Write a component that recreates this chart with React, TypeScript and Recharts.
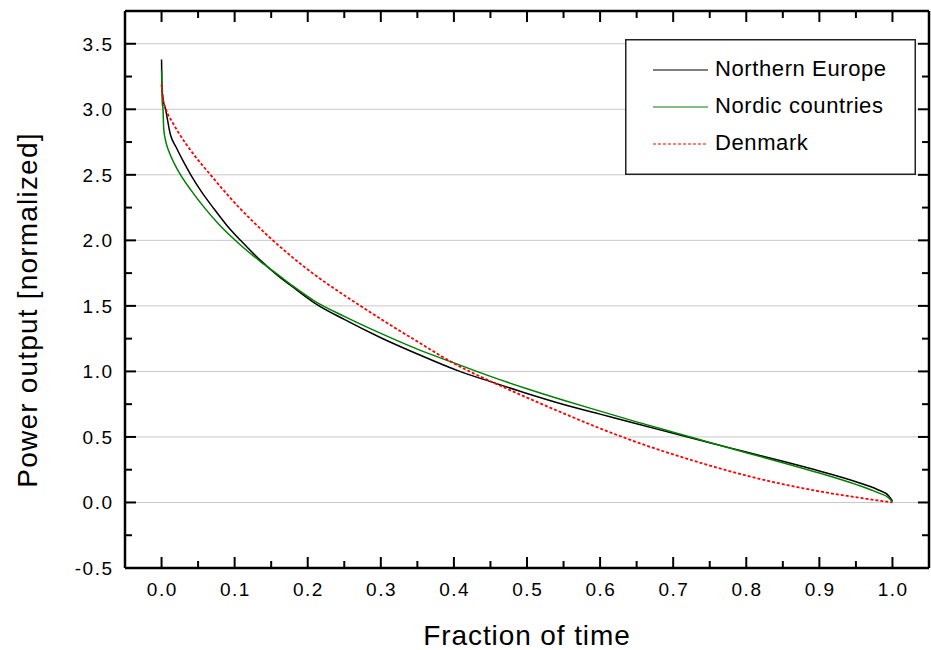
import React from 'react';
import { LineChart, Line, XAxis, YAxis, CartesianGrid, Legend } from 'recharts';

// Northern Europe (black)
const NE_TIME = [0, 0.0005, 0.002, 0.0055, 0.012, 0.02, 0.03, 0.04, 0.055, 0.072, 0.09, 0.108, 0.135, 0.16, 0.18, 0.21, 0.25, 0.3, 0.35, 0.408, 0.45, 0.5, 0.55, 0.6, 0.65, 0.7, 0.75, 0.8, 0.85, 0.9, 0.95, 0.98, 0.995, 1.0];
const NE_POWER = [3.38, 3.18, 3.08, 3.0, 2.81, 2.71, 2.6, 2.5, 2.368, 2.239, 2.11, 2.0, 1.849, 1.727, 1.642, 1.52, 1.397, 1.257, 1.133, 1.0, 0.922, 0.832, 0.748, 0.674, 0.6, 0.528, 0.456, 0.385, 0.314, 0.24, 0.158, 0.097, 0.05, 0.012];

// Nordic countries (green)
const NC_TIME = [0, 0.001, 0.002, 0.003, 0.006, 0.01, 0.018, 0.026, 0.04, 0.06, 0.078, 0.096, 0.115, 0.135, 0.16, 0.18, 0.21, 0.25, 0.3, 0.35, 0.4, 0.45, 0.5, 0.55, 0.6, 0.65, 0.7, 0.75, 0.8, 0.85, 0.9, 0.95, 0.98, 0.995, 1.0];
const NC_POWER = [3.3, 3.05, 3.0, 2.85, 2.75, 2.68, 2.58, 2.5, 2.385, 2.24, 2.125, 2.025, 1.93, 1.84, 1.735, 1.65, 1.535, 1.42, 1.29, 1.17, 1.065, 0.962, 0.868, 0.78, 0.697, 0.615, 0.536, 0.458, 0.38, 0.303, 0.225, 0.138, 0.075, 0.035, 0.003];

// Denmark (red, dashed)
const DK_TIME = [0, 0.002, 0.006, 0.015, 0.023, 0.045, 0.067, 0.085, 0.103, 0.125, 0.148, 0.175, 0.2, 0.235, 0.271, 0.3, 0.35, 0.405, 0.45, 0.5, 0.55, 0.6, 0.653, 0.7, 0.75, 0.8, 0.85, 0.9, 0.95, 1.0];
const DK_POWER = [3.19, 3.08, 3.0, 2.9, 2.824, 2.648, 2.5, 2.381, 2.269, 2.144, 2.022, 1.89, 1.777, 1.637, 1.504, 1.4, 1.228, 1.046, 0.925, 0.8, 0.68, 0.565, 0.454, 0.367, 0.282, 0.205, 0.14, 0.085, 0.04, 0.0];

const X_MAJOR = [0.0, 0.1, 0.2, 0.3, 0.4, 0.5, 0.6, 0.7, 0.8, 0.9, 1.0];
const X_MINOR = [0.05, 0.15, 0.25, 0.35, 0.45, 0.55, 0.65, 0.75, 0.85, 0.95];
const Y_MAJOR = [-0.5, 0.0, 0.5, 1.0, 1.5, 2.0, 2.5, 3.0, 3.5];
const Y_MINOR = [-0.25, 0.25, 0.75, 1.25, 1.75, 2.25, 2.75, 3.25];
const Y_GRID = [0.0, 0.5, 1.0, 1.5, 2.0, 2.5, 3.0, 3.5];

const X_TICKS = [...X_MAJOR, ...X_MINOR].sort((a, b) => a - b);
const Y_TICKS = [...Y_MAJOR, ...Y_MINOR].sort((a, b) => a - b);

const toPoints = (xs: number[], ys: number[]) => xs.map((x, i) => ({ x, y: ys[i] }));

const SERIES = [
  { name: 'Northern Europe', color: '#000000', dash: undefined, width: 1.5, data: toPoints(NE_TIME, NE_POWER) },
  { name: 'Nordic countries', color: '#008000', dash: undefined, width: 1.5, data: toPoints(NC_TIME, NC_POWER) },
  { name: 'Denmark', color: '#ff0000', dash: '3 2', width: 1.8, data: toPoints(DK_TIME, DK_POWER) },
];

const FONT = "'Liberation Sans', Arial, Helvetica, sans-serif";
const MAJOR_LEN = 11;
const MINOR_LEN = 7;

const isMajor = (list: number[], v: number) => list.some((m) => Math.abs(m - v) < 1e-9);

const BottomTick = (props: any) => {
  const { x, y, payload } = props;
  const major = isMajor(X_MAJOR, payload.value);
  return (
    <g>
      <line x1={x} y1={y} x2={x} y2={y - (major ? MAJOR_LEN : MINOR_LEN)} stroke="#000" strokeWidth={2} />
      {major && (
        <text x={x + 0.75} y={y + 28} textAnchor="middle" fontSize={19} letterSpacing={1.5} fontFamily={FONT} fill="#000">
          {payload.value.toFixed(1)}
        </text>
      )}
    </g>
  );
};

const TopTick = (props: any) => {
  const { x, y, payload } = props;
  const major = isMajor(X_MAJOR, payload.value);
  return <line x1={x} y1={y} x2={x} y2={y + (major ? MAJOR_LEN : MINOR_LEN)} stroke="#000" strokeWidth={2} />;
};

const LeftTick = (props: any) => {
  const { x, y, payload } = props;
  const major = isMajor(Y_MAJOR, payload.value);
  return (
    <g>
      <line x1={x} y1={y} x2={x + (major ? MAJOR_LEN : MINOR_LEN)} y2={y} stroke="#000" strokeWidth={2} />
      {major && (
        <text x={x - 11.5} y={y + 7} textAnchor="end" fontSize={19} letterSpacing={1.5} fontFamily={FONT} fill="#000">
          {payload.value.toFixed(1)}
        </text>
      )}
    </g>
  );
};

const RightTick = (props: any) => {
  const { x, y, payload } = props;
  const major = isMajor(Y_MAJOR, payload.value);
  return <line x1={x} y1={y} x2={x - (major ? MAJOR_LEN : MINOR_LEN)} y2={y} stroke="#000" strokeWidth={2} />;
};

const LegendBox = () => (
  <svg width={291} height={136} style={{ display: 'block' }}>
    <rect x={0.75} y={0.75} width={289.5} height={134.5} fill="#fff" stroke="#222" strokeWidth={1.5} />
    {SERIES.map((s, i) => {
      const cy = 31 + i * 37;
      return (
        <g key={s.name}>
          <line x1={28} y1={cy} x2={83} y2={cy} stroke={s.color} strokeWidth={1.2} strokeDasharray={s.dash} />
          <text x={90} y={cy + 6} fontSize={22} letterSpacing={0.6} fontFamily={FONT} fill="#000">
            {s.name}
          </text>
        </g>
      );
    })}
  </svg>
);

const XTitle = (props: any) => {
  const vb = props.viewBox;
  return (
    <text x={vb.x + vb.width / 2} y={vb.y + 77} textAnchor="middle" fontSize={28} letterSpacing={0.9} fontFamily={FONT} fill="#000">
      Fraction of time
    </text>
  );
};

const YTitle = () => (
  <text x={37} y={310} transform="rotate(-90, 37, 310)" textAnchor="middle" fontSize={28} letterSpacing={1.2} fontFamily={FONT} fill="#000">
    Power output [normalized]
  </text>
);

const axisLine = { stroke: '#000', strokeWidth: 2.5 };

export default function App() {
  return (
    <div style={{ position: 'absolute', left: 0, top: 0, width: 931, height: 650, background: '#fff' }}>
      <LineChart width={931} height={650} margin={{ top: 0, right: 0, bottom: 0, left: 0 }}>
        <CartesianGrid vertical={false} horizontalValues={Y_GRID} stroke="#c8c8c8" strokeWidth={1} />
        <XAxis
          dataKey="x"
          type="number"
          domain={[-0.05, 1.05]}
          ticks={X_TICKS}
          interval={0}
          tick={<BottomTick />}
          tickLine={false}
          tickSize={0}
          tickMargin={0}
          axisLine={axisLine}
          height={82}
          allowDataOverflow
          label={(p: any) => <XTitle {...p} />}
        />
        <XAxis
          xAxisId="top"
          orientation="top"
          dataKey="x"
          type="number"
          domain={[-0.05, 1.05]}
          ticks={X_TICKS}
          interval={0}
          tick={<TopTick />}
          tickLine={false}
          tickSize={0}
          tickMargin={0}
          axisLine={axisLine}
          height={11}
          allowDataOverflow
        />
        <YAxis
          type="number"
          domain={[-0.5, 3.75]}
          ticks={Y_TICKS}
          interval={0}
          tick={<LeftTick />}
          tickLine={false}
          tickSize={0}
          tickMargin={0}
          axisLine={axisLine}
          width={125}
          allowDataOverflow
          label={() => <YTitle />}
        />
        <YAxis
          yAxisId="right"
          orientation="right"
          type="number"
          domain={[-0.5, 3.75]}
          ticks={Y_TICKS}
          interval={0}
          tick={<RightTick />}
          tickLine={false}
          tickSize={0}
          tickMargin={0}
          axisLine={axisLine}
          width={2}
          allowDataOverflow
        />
        {SERIES.map((s) => (
          <Line
            key={s.name}
            data={s.data}
            dataKey="y"
            name={s.name}
            type="monotone"
            stroke={s.color}
            strokeWidth={s.width}
            strokeDasharray={s.dash}
            dot={false}
            activeDot={false}
            isAnimationActive={false}
          />
        ))}
        <Legend
          layout="vertical"
          align="center"
          verticalAlign="middle"
          wrapperStyle={{ left: 625, top: 39, width: 291, height: 136 }}
          content={() => <LegendBox />}
        />
      </LineChart>
    </div>
  );
}
